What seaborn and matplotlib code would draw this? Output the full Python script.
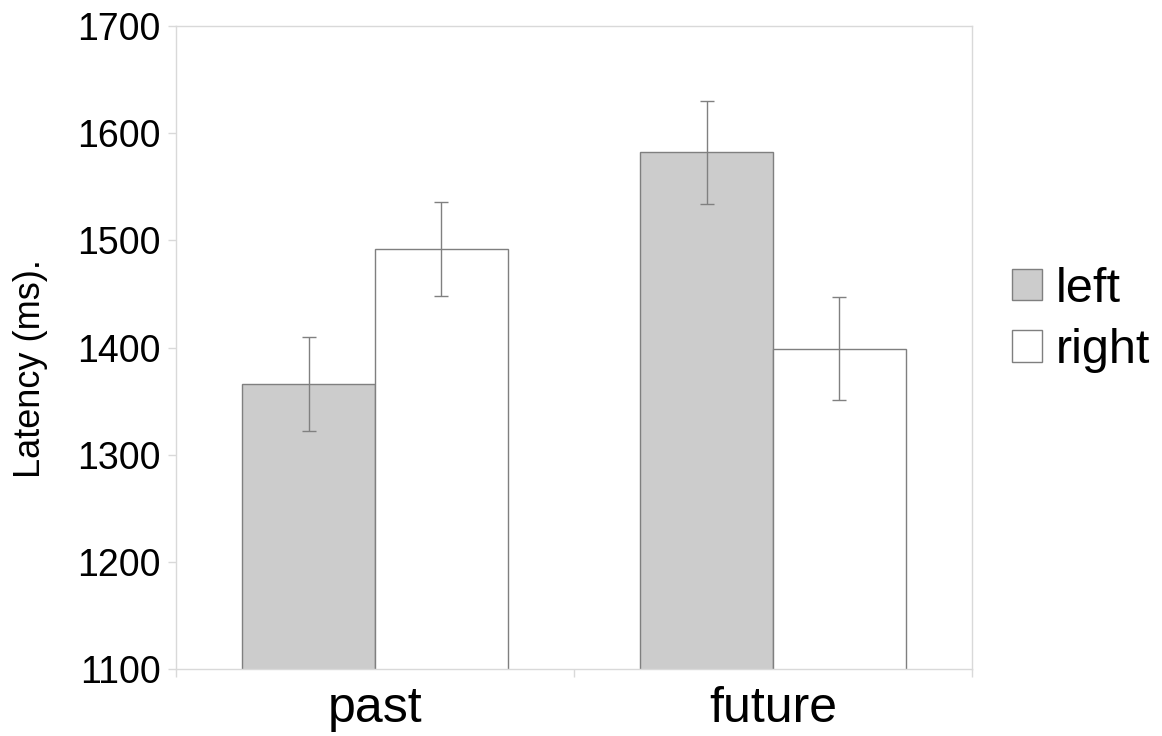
import matplotlib
matplotlib.use("Agg")
import matplotlib.pyplot as plt
import seaborn as sns
import pandas as pd
import numpy as np
from matplotlib.patches import Patch

categories = ["past", "future"]
sides = ["left", "right"]
left_vals = [1366, 1582]
right_vals = [1492, 1399]
left_err = [44, 48]
right_err = [44, 48]
yticks = [1100, 1200, 1300, 1400, 1500, 1600, 1700]

df = pd.DataFrame({
    "time": categories * 2,
    "side": ["left"] * 2 + ["right"] * 2,
    "latency": left_vals + right_vals,
    "err": left_err + right_err,
})

sns.set_style("white")
plt.rcParams["font.family"] = ["Liberation Sans", "DejaVu Sans"]
plt.rcParams["text.color"] = "black"
plt.rcParams["xtick.color"] = "black"
plt.rcParams["ytick.color"] = "black"
plt.rcParams["axes.labelcolor"] = "black"

fig = plt.figure(figsize=(11.62, 7.36), dpi=100)
ax = fig.add_axes([176/1162, 67/736, (972-176)/1162, (669-26)/736])

palette = {"left": "#cccccc", "right": "#ffffff"}
sns.barplot(data=df, x="time", y="latency", hue="side", order=categories,
            hue_order=sides, palette=palette, errorbar=None, width=0.668,
            edgecolor="#7f7f7f", linewidth=1.0, saturation=1, ax=ax, legend=False)

for patch_group, side in zip([ax.patches[:2], ax.patches[2:4]], sides):
    sub = df[df.side == side].set_index("time").loc[categories]
    xs = [p.get_x() + p.get_width() / 2 for p in patch_group]
    ax.errorbar(xs, sub["latency"].values, yerr=sub["err"].values, fmt="none",
                ecolor="#808080", elinewidth=1.0, capsize=5, capthick=1.0, zorder=5)

ax.set_ylim(1100, 1700)
ax.set_xlim(-0.5, 1.5)
ax.set_yticks(yticks)
ax.set_yticklabels([str(v) for v in yticks], fontsize=27)
ax.tick_params(axis="y", which="major", left=True, length=6, color="#d9d9d9",
               labelcolor="black", width=1, pad=5)
ax.tick_params(axis="x", which="major", bottom=False, length=0, labelsize=36,
               labelcolor="black", pad=12)
ax.set_xticks([-0.5, 0.5, 1.5], minor=True)
ax.tick_params(axis="x", which="minor", bottom=True, length=6, color="#d9d9d9", width=1)
ax.set_xlabel("")
ax.set_ylabel("Latency (ms).", fontsize=26, color="black", ha="center", va="center")
ax.yaxis.set_label_coords(-0.183, 0.467)

for s in ax.spines.values():
    s.set_color("#d9d9d9")
    s.set_linewidth(1.0)
    s.set_visible(True)

handles = [Patch(facecolor=palette[s], edgecolor="#7f7f7f", linewidth=1.0) for s in sides]
fig.legend(handles, sides, loc="center left", bbox_to_anchor=(1012/1162, 1 - 320/736),
           frameon=False, fontsize=35, handlelength=0.62, handleheight=0.62,
           handletextpad=0.27, labelspacing=0.34, borderaxespad=0, borderpad=0)

fig.savefig("out.png", dpi=100)
